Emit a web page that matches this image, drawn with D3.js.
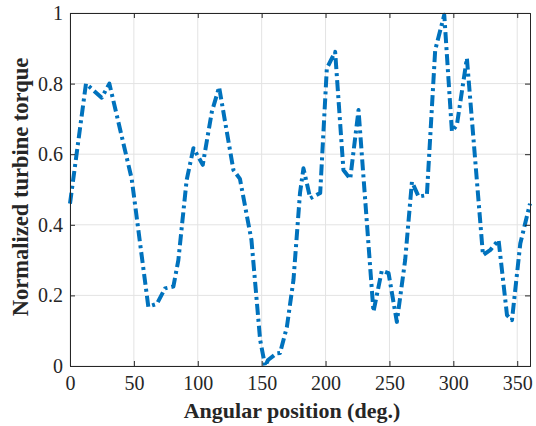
<!DOCTYPE html>
<html>
<head>
<meta charset="utf-8">
<script src="https://cdn.jsdelivr.net/npm/d3@7"></script>
<style>
  body { margin: 0; background: #fff; }
  svg { display: block; }
</style>
</head>
<body>
<div id="chart"></div>
<script>
// angular position (deg.) and normalized torque
const angles = [0, 12.5, 24.8, 30.8, 48.3, 61.3, 68, 74.4, 80.9, 84.8, 91.3, 96.6, 103.9, 111, 116.7,
    127.9, 133, 142, 148.8, 152.7, 155, 161.8, 164.4, 169.7, 174.9, 180, 182.7, 188, 195.8, 201, 207.5,
    214, 219.3, 225.8, 237.5, 244, 249.3, 255.8, 262.3, 267.6, 272.8, 279.3, 285.8, 292.9, 298.9,
    302.8, 310.6, 323.2, 329, 335.4, 342, 345.9, 352.4, 360];
const torque = [0.46, 0.80, 0.76, 0.80, 0.53, 0.168, 0.176, 0.22, 0.225, 0.30, 0.527, 0.617, 0.57, 0.72, 0.79,
    0.555, 0.53, 0.357, 0.074, 0.0, 0.017, 0.036, 0.037, 0.11, 0.244, 0.49, 0.56, 0.475, 0.49, 0.843, 0.89,
    0.555, 0.53, 0.725, 0.154, 0.27, 0.263, 0.125, 0.30, 0.522, 0.48, 0.484, 0.895, 0.995, 0.664,
    0.683, 0.872, 0.314, 0.329, 0.357, 0.144, 0.13, 0.347, 0.46];

const xTicks = [0, 50, 100, 150, 200, 250, 300, 350];
const yTicks = [0, 0.2, 0.4, 0.6, 0.8, 1];

const svgWidth = 536;
const svgHeight = 426;
const margin = {left: 70, right: 6, top: 13, bottom: 60};

const svg = d3.select('#chart')
    .append('svg')
    .attr('width', svgWidth)
    .attr('height', svgHeight);

const xScale = d3.scaleLinear().domain([0, 360]).range([margin.left, svgWidth - margin.right]);
const yScale = d3.scaleLinear().domain([0, 1]).range([svgHeight - margin.bottom, margin.top]);

const axisColor = '#262626';
const font = '"Liberation Serif", "Times New Roman", serif';

// grid
svg.append('g')
    .selectAll('line')
    .data(xTicks)
    .join('line')
    .attr('x1', d => xScale(d)).attr('x2', d => xScale(d))
    .attr('y1', yScale(0)).attr('y2', yScale(1))
    .attr('stroke', '#e3e3e3')
    .attr('stroke-width', 1);

svg.append('g')
    .selectAll('line')
    .data(yTicks)
    .join('line')
    .attr('x1', xScale(0)).attr('x2', xScale(360))
    .attr('y1', d => yScale(d)).attr('y2', d => yScale(d))
    .attr('stroke', '#e3e3e3')
    .attr('stroke-width', 1);

// data line
const line = d3.line()
    .x((d, i) => xScale(angles[i]))
    .y(d => yScale(d));

svg.append('path')
    .datum(torque)
    .attr('d', line)
    .attr('fill', 'none')
    .attr('stroke', '#0072BD')
    .attr('stroke-width', 4)
    .attr('stroke-dasharray', '11,4,3,4')
    .attr('stroke-linejoin', 'round');

// axes (ticks inward, box on all sides)
const tickLen = 5;
const bottomAxis = d3.axisBottom(xScale).tickValues(xTicks).tickSize(-tickLen).tickPadding(10);
const topAxis = d3.axisTop(xScale).tickValues(xTicks).tickSize(-tickLen).tickFormat('');
const leftAxis = d3.axisLeft(yScale).tickValues(yTicks).tickSize(-tickLen).tickPadding(7).tickFormat(d3.format('~g'));
const rightAxis = d3.axisRight(yScale).tickValues(yTicks).tickSize(-tickLen).tickFormat('');

function styleAxis(g) {
    g.attr('font-family', font).attr('font-size', 20);
    g.selectAll('path').attr('stroke', axisColor).attr('stroke-width', 1);
    g.selectAll('line').attr('stroke', axisColor).attr('stroke-width', 1);
    g.selectAll('text').attr('fill', axisColor);
}

svg.append('g')
    .attr('transform', `translate(0, ${yScale(0)})`)
    .call(bottomAxis)
    .call(styleAxis);

svg.append('g')
    .attr('transform', `translate(0, ${yScale(1)})`)
    .call(topAxis)
    .call(styleAxis);

svg.append('g')
    .attr('transform', `translate(${xScale(0)}, 0)`)
    .call(leftAxis)
    .call(styleAxis);

svg.append('g')
    .attr('transform', `translate(${xScale(360)}, 0)`)
    .call(rightAxis)
    .call(styleAxis);

// axis titles
svg.append('text')
    .attr('x', 292)
    .attr('y', 418)
    .attr('text-anchor', 'middle')
    .attr('font-family', font)
    .attr('font-weight', 'bold')
    .attr('font-size', 22)
    .attr('fill', axisColor)
    .text('Angular position (deg.)');

svg.append('text')
    .attr('transform', `translate(28, 187) rotate(-90)`)
    .attr('text-anchor', 'middle')
    .attr('font-family', font)
    .attr('font-weight', 'bold')
    .attr('font-size', 22.5)
    .attr('fill', axisColor)
    .text('Normalized turbine torque');
</script>
</body>
</html>
